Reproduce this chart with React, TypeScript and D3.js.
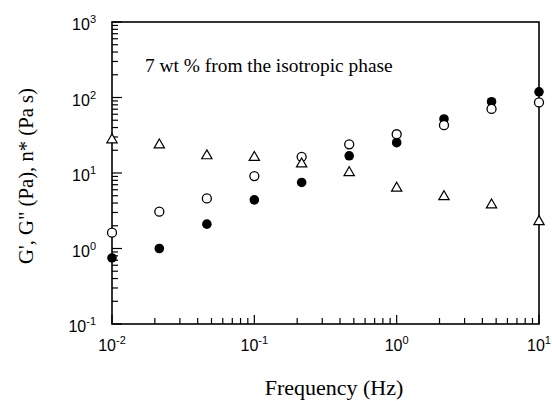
import React from "react";
import * as d3 from "d3";

const frequency = [0.01, 0.0215, 0.0464, 0.1, 0.215, 0.464, 1, 2.15, 4.64, 10];
const gPrime = [0.75, 1.0, 2.1, 4.4, 7.5, 16.9, 25.2, 52, 88, 119];
const gDoublePrime = [1.62, 3.07, 4.6, 9.1, 16.4, 24, 32.6, 43, 70.5, 86];
const etaStar = [27.5, 23.5, 16.9, 16.1, 13.2, 10.1, 6.3, 4.85, 3.77, 2.27];

const xTickExps = ["-2", "-1", "0", "1"];
const yTickExps = ["-1", "0", "1", "2", "3"];

const W = 552;
const H = 401;
const L = 112, R = 539, T = 22, B = 324;

export default function App() {
  const x = d3.scaleLog().domain([0.01, 10]).range([L, R]);
  const y = d3.scaleLog().domain([0.1, 1000]).range([B, T]);
  const isMajor = (v: number) => Math.abs(Math.log10(v) - Math.round(Math.log10(v))) < 1e-9;
  const xt = x.ticks();
  const yt = y.ticks();
  const tri = d3.symbol().type(d3.symbolTriangle).size(46)();
  const sans = "'Liberation Sans', Arial, sans-serif";
  const serif = "'Liberation Serif', 'Times New Roman', serif";

  return (
    <div style={{ position: "absolute", left: 0, top: 0 }}>
      <svg width={W} height={H} style={{ display: "block", background: "#fff" }}>
        <rect x={0} y={0} width={W} height={H} fill="#fff" />
        {/* ticks */}
        {xt.map((v, i) => (
          <line key={"xt" + i} x1={x(v)} x2={x(v)} y1={B} y2={B - (isMajor(v) ? 9 : 6)} stroke="#000" strokeWidth={1.2} />
        ))}
        {yt.map((v, i) => (
          <line key={"yt" + i} x1={L} x2={L + (isMajor(v) ? 10 : 6)} y1={y(v)} y2={y(v)} stroke="#000" strokeWidth={1.2} />
        ))}
        {/* frame */}
        <rect x={L} y={T} width={R - L} height={B - T} fill="none" stroke="#000" strokeWidth={1.6} />
        {/* tick labels */}
        {xTickExps.map((e) => (
          <text key={"xl" + e} x={x(Math.pow(10, +e))} y={351} textAnchor="middle" fontFamily={sans} fontSize={16} fill="#000">
            10<tspan dy={-7} fontSize={11}>{e}</tspan>
          </text>
        ))}
        {yTickExps.map((e) => (
          <text key={"yl" + e} x={96} y={y(Math.pow(10, +e)) + 8} textAnchor="end" fontFamily={sans} fontSize={16} fill="#000">
            10<tspan dy={-7} fontSize={11}>{e}</tspan>
          </text>
        ))}
        {/* axis titles */}
        <text x={334} y={395} textAnchor="middle" fontFamily={serif} fontSize={22} fill="#000">Frequency (Hz)</text>
        <text transform={`translate(33,176) rotate(-90)`} textAnchor="middle" fontFamily={serif} fontSize={20.7} fill="#000">
          G', G" (Pa), n* (Pa s)
        </text>
        <text x={145} y={72} fontFamily={serif} fontSize={19.4} fill="#000">7 wt % from the isotropic phase</text>
        {/* data */}
        {frequency.map((f, i) => (
          <circle key={"gp" + i} cx={x(f)} cy={y(gPrime[i])} r={4.8} fill="#000" />
        ))}
        {frequency.map((f, i) => (
          <circle key={"gpp" + i} cx={x(f)} cy={y(gDoublePrime[i])} r={4.5} fill="#fff" stroke="#000" strokeWidth={1.3} />
        ))}
        {frequency.map((f, i) => (
          <path key={"eta" + i} d={tri || ""} transform={`translate(${x(f)},${y(etaStar[i])})`} fill="#fff" stroke="#000" strokeWidth={1.2} />
        ))}
      </svg>
    </div>
  );
}
